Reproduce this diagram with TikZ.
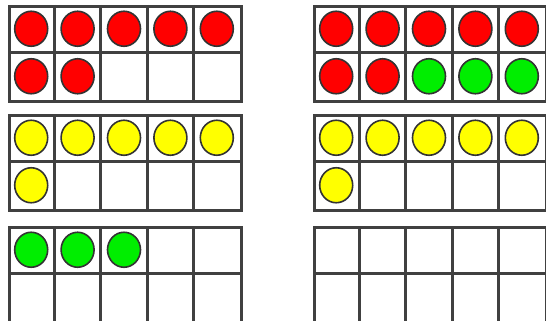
\documentclass[tikz,border=0pt]{standalone}
\usetikzlibrary{shapes.geometric}
\definecolor{cr}{HTML}{FF0000}
\definecolor{cy}{HTML}{FFFF00}
\definecolor{cg}{HTML}{00EE00}
\definecolor{gridc}{HTML}{404040}
\tikzset{
  frameline/.style={draw=gridc, line width=2.7pt},
  counter/.style={ellipse, draw=black!80, line width=1.6pt, minimum width=33pt, minimum height=35pt, inner sep=0pt},
  framebox/.style={rectangle, frameline, fill=white, minimum width=232pt, minimum height=95pt, anchor=north west, inner sep=0pt}
}
\begin{document}
\begin{tikzpicture}[x=1pt,y=-1pt]
\useasboundingbox (0,0) rectangle (546,321);
\def\cw{46.4}
\def\ch{47.5}
\foreach \nm/\X/\Y/\lst in {A/8/5/{cr,cr,cr,cr,cr,cr,cr},
                           B/313/5/{cr,cr,cr,cr,cr,cr,cr,cg,cg,cg},
                           C/8/114/{cy,cy,cy,cy,cy,cy},
                           D/313/114/{cy,cy,cy,cy,cy,cy},
                           E/8/226/{cg,cg,cg},
                           F/313/226/{}} {
  \node[framebox] (\nm) at (\X,\Y) {};
  \foreach \k in {1,2,3,4}
    \draw[frameline] (\X+\k*\cw,\Y) -- (\X+\k*\cw,\Y+2*\ch);
  \draw[frameline] (\X,\Y+\ch) -- (\X+5*\cw,\Y+\ch);
  \foreach \col [count=\k from 0] in \lst {
    \pgfmathtruncatemacro\cc{mod(\k,5)}
    \pgfmathtruncatemacro\rr{div(\k,5)}
    \node[counter, fill=\col] (\nm-\k) at (\X+\cc*\cw+0.5*\cw, \Y+\rr*\ch+0.5*\ch) {};
  }
}
\end{tikzpicture}
\end{document}
